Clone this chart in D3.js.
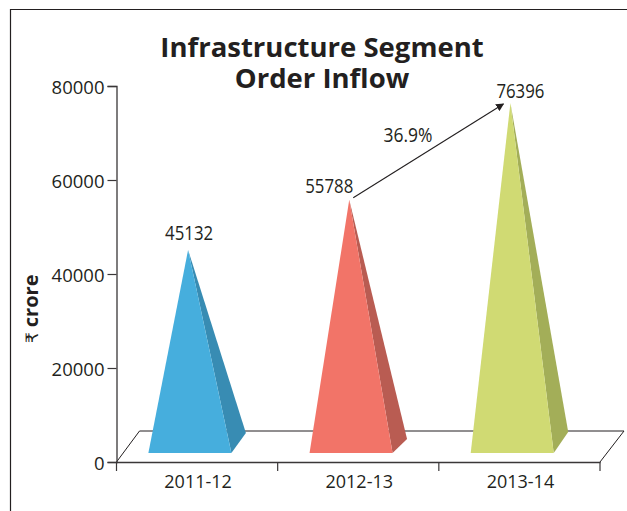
<!DOCTYPE html>
<html><head><meta charset="utf-8">
<script src="https://cdn.jsdelivr.net/npm/d3@7"></script>
<style>html,body{margin:0;padding:0;background:#fff}svg{display:block}text{font-family:"Open Sans","Noto Sans",sans-serif;fill:#231f20}</style>
</head><body><svg id="c" width="627" height="511"></svg>
<script>
const categories = ["2011-12","2012-13","2013-14"];
const values = [45132,55788,76396];
const frontColors = ["#46aedd","#f27468","#d0da73"];
const sideColors = ["#388cb3","#b95c52","#a3ae58"];
const yTicks = [0,20000,40000,60000,80000];
const titleLines = ["Infrastructure Segment","Order Inflow"];
const growthLabel = "36.9%";
const unitSymbol = "₹";
const unitLabel = "crore";

const ink = "#231f20";
const svg = d3.select("#c");
const y = d3.scaleLinear().domain([0,80000]).range([462,86]);
const x = d3.scaleBand().domain(categories).range([116.5,600]);
const depth = {dx:24, dy:31};
const baseY = 453, halfBase = 41.5, baseShift = -7.2, apexShift = -9, sideDx = 14.5;
const sideRise = [20,14,21];

// frame
svg.append("path").attr("d","M10.5,511V9.5H627").attr("fill","none").attr("stroke",ink).attr("stroke-width",1.2);

// floor
const x0=x.range()[0], x1=x.range()[1], y0=y(0);
svg.append("path")
  .attr("d",`M${x0},${y0}L${x0+depth.dx-1},${y0-depth.dy}H${x1+depth.dx}L${x1},${y0}`)
  .attr("fill","none").attr("stroke",ink).attr("stroke-width",1);

// axes
const gy = svg.append("g").attr("transform",`translate(${x0},0)`)
  .call(d3.axisLeft(y).tickValues(yTicks).tickFormat(d3.format("d")).tickSize(9).tickPadding(3));
const gx = svg.append("g").attr("transform",`translate(0,${y0})`)
  .call(d3.axisBottom(x).tickSize(0).tickPadding(0));
gx.selectAll(".tick text").attr("dy",0).attr("y",26).attr("x",1);
gx.selectAll(".tick").append("line")
  .attr("x1",x.bandwidth()/2).attr("x2",x.bandwidth()/2).attr("y2",9).attr("stroke",ink);
gx.append("line").attr("x1",x0).attr("x2",x0).attr("y2",9).attr("stroke",ink);
[gy,gx].forEach(g=>{g.selectAll("path.domain").attr("stroke","#3a3738").attr("stroke-width",1.3);
  g.selectAll("line").attr("stroke","#3a3738").attr("stroke-width",1.2);
  g.selectAll("text").attr("font-size",18).attr("font-family",null);});
gy.selectAll("text").attr("font-size",18.5).attr("y",0).attr("dy",7);

// pyramids
const marks = svg.append("g").selectAll("g").data(categories.map((c,i)=>({c,i,v:values[i]}))).join("g");
const cx = d=>x(d.c)+x.bandwidth()/2;
marks.append("path").attr("fill",d=>sideColors[d.i]).attr("d",d=>{
  const br=cx(d)+baseShift+halfBase;
  return `M${cx(d)+apexShift},${y(d.v)}L${br},${baseY}L${br+sideDx},${baseY-sideRise[d.i]}Z`;});
marks.append("path").attr("fill",d=>frontColors[d.i]).attr("d",d=>{
  const m=cx(d)+baseShift;
  return `M${cx(d)+apexShift},${y(d.v)}L${m-halfBase},${baseY}L${m+halfBase},${baseY}Z`;});

// value labels
const labelOffset = [{dx:-8,dy:-10},{dx:-29,dy:-7},{dx:1,dy:-5}];
marks.append("text").text(d=>d.v).attr("text-anchor","middle").attr("font-size",19.5)
  .attr("textLength",48).attr("lengthAdjust","spacingAndGlyphs")
  .attr("x",d=>cx(d)+labelOffset[d.i].dx).attr("y",d=>y(d.v)+labelOffset[d.i].dy);

// growth arrow
svg.append("defs").append("marker").attr("id","ah").attr("viewBox","0 0 10 10").attr("refX",9).attr("refY",5)
  .attr("markerWidth",8).attr("markerHeight",8).attr("markerUnits","userSpaceOnUse").attr("orient","auto")
  .append("path").attr("d","M0,0L10,5L0,10Z").attr("fill",ink);
const mid=d=>x(categories[d])+x.bandwidth()/2;
svg.append("line").attr("x1",mid(1)-5).attr("y1",y(values[1])-2)
  .attr("x2",mid(2)-16).attr("y2",y(values[2])+1)
  .attr("stroke",ink).attr("stroke-width",1.1).attr("marker-end","url(#ah)");
svg.append("text").text(growthLabel).attr("x",408).attr("y",142).attr("text-anchor","middle")
  .attr("font-size",19.5).attr("textLength",49).attr("lengthAdjust","spacingAndGlyphs");

// title
const title = svg.append("text").attr("text-anchor","middle").attr("font-size",27.5).attr("font-weight",700);
title.selectAll("tspan").data(titleLines).join("tspan").text(d=>d)
  .attr("x",322).attr("y",(d,i)=>57+i*31);

// unit
const unit = svg.append("text").attr("transform","translate(38,343) rotate(-90)");
unit.append("tspan").text(unitSymbol).attr("font-size",17).attr("font-family","'DejaVu Sans'");
unit.append("tspan").text(unitLabel).attr("dx",5).attr("font-size",20).attr("font-weight",700);
</script></body></html>
